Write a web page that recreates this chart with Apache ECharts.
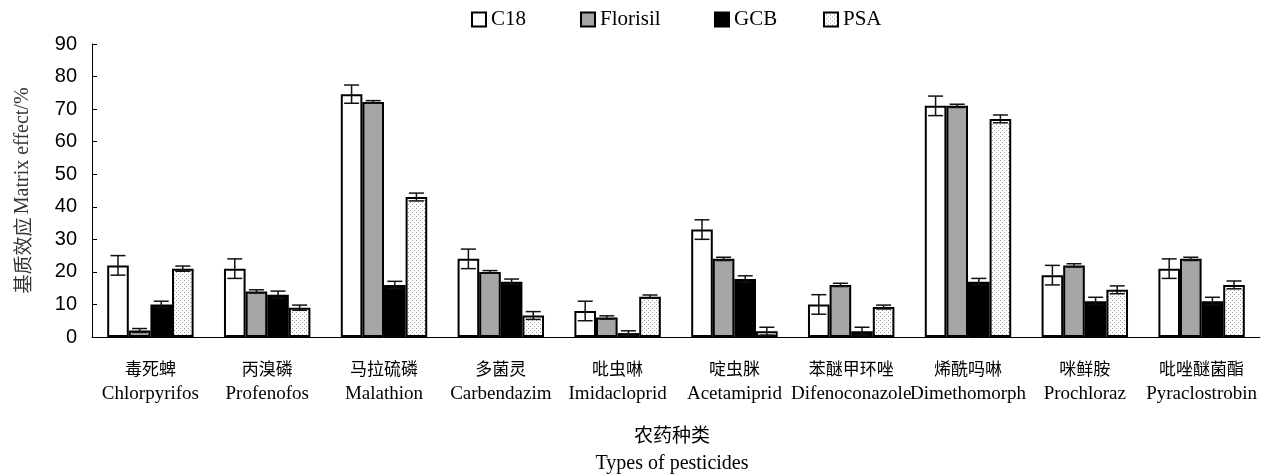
<!DOCTYPE html>
<html>
<head>
<meta charset="utf-8">
<script src="https://cdn.jsdelivr.net/npm/echarts@6/dist/echarts.min.js"></script>
<style>
  html, body { margin: 0; padding: 0; background: #fff; }
  #chart { width: 1267px; height: 476px; }
</style>
</head>
<body>
<div id="chart"></div>
<script>
// Pesticide names (Chinese / English)
const namesCn = ['毒死蜱', '丙溴磷', '马拉硫磷', '多菌灵', '吡虫啉', '啶虫脒', '苯醚甲环唑', '烯酰吗啉', '咪鲜胺', '吡唑醚菌酯'];
const namesEn = ['Chlorpyrifos', 'Profenofos', 'Malathion', 'Carbendazim', 'Imidacloprid', 'Acetamiprid', 'Difenoconazole', 'Dimethomorph', 'Prochloraz', 'Pyraclostrobin'];

// Sorbent names
const sorbents = ['C18', 'Florisil', 'GCB', 'PSA'];

// Matrix effect (%) per sorbent
const c18 = [22, 21, 74.6, 24, 8, 33, 10, 71, 19, 21];
const florisil = [2, 14, 72.2, 20, 6, 24, 16, 71, 22, 24];
const gcb = [10, 13, 16, 17, 1.2, 17.8, 1.8, 17, 11, 11];
const psa = [21, 9, 43, 6.6, 12.4, 1.8, 9.2, 67, 14.5, 16];

// Standard deviations
const c18Err = [3, 3, 2.8, 3, 3, 3, 3, 3, 3, 3];
const florisilErr = [0.6, 0.5, 0.4, 0.4, 0.5, 0.5, 0.5, 0.5, 0.5, 0.5];
const gcbErr = [1, 1.1, 1.1, 0.8, 0.7, 1, 1.2, 1, 1.2, 1.2];
const psaErr = [0.8, 0.8, 1.2, 1.2, 0.5, 1.2, 0.6, 1.2, 1.2, 1.2];

// Y axis ticks
const yMin = 0, yMax = 90, yStep = 10;

const values = [c18, florisil, gcb, psa];
const errors = [c18Err, florisilErr, gcbErr, psaErr];

// Dotted fill for PSA
function dotPattern() {
  const c = document.createElement('canvas');
  c.width = 4; c.height = 4;
  const g = c.getContext('2d');
  g.fillStyle = '#ffffff';
  g.fillRect(0, 0, 4, 4);
  g.fillStyle = '#9a9a9a';
  g.fillRect(0, 0, 1, 1);
  g.fillRect(2, 2, 1, 1);
  return { image: c, repeat: 'repeat' };
}

const fills = ['#ffffff', '#a6a6a6', '#000000', dotPattern()];
const BAR_FRAC = 0.185;

const serif = "'Liberation Serif', 'Times New Roman', 'Noto Sans CJK SC', serif";
const cjk = "'Noto Sans CJK SC', 'Liberation Serif', serif";

const barSeries = sorbents.map((name, k) => ({
  name: name,
  type: 'bar',
  data: values[k],
  barWidth: (BAR_FRAC * 100) + '%',
  barGap: '0%',
  itemStyle: { color: fills[k], borderColor: '#000', borderWidth: 2 },
  emphasis: { disabled: true },
  z: 2
}));

const errSeries = sorbents.map((name, k) => ({
  name: name + '-sd',
  type: 'custom',
  z: 3,
  silent: true,
  data: values[k].map((v, i) => [i, v, errors[k][i]]),
  encode: { x: 0, y: 1 },
  renderItem: function (params, api) {
    const i = api.value(0), v = api.value(1), e = api.value(2);
    const band = api.size([1, 0])[0];
    const cx = api.coord([i, v])[0] + (k - 1.5) * band * BAR_FRAC;
    const yHi = api.coord([i, v + e])[1];
    const yLo = api.coord([i, Math.max(v - e, 0)])[1];
    const cap = 7.5;
    const st = { stroke: '#111', lineWidth: 1.5 };
    return {
      type: 'group',
      children: [
        { type: 'line', shape: { x1: cx, y1: yHi, x2: cx, y2: yLo }, style: st },
        { type: 'line', shape: { x1: cx - cap, y1: yHi, x2: cx + cap, y2: yHi }, style: st },
        { type: 'line', shape: { x1: cx - cap, y1: yLo, x2: cx + cap, y2: yLo }, style: st }
      ]
    };
  }
}));

// One legend block per sorbent so each entry sits at its own place
const legendLeft = [471, 580, 714, 823];
const legends = sorbents.map((name, k) => ({
  data: [name],
  top: 9,
  left: legendLeft[k],
  padding: 0,
  icon: 'rect',
  itemWidth: 14,
  itemHeight: 14,
  textStyle: { fontFamily: serif, fontSize: 21, color: '#000', padding: [2, 0, 0, 0] },
  itemStyle: { borderColor: '#000', borderWidth: 2 }
}));

const chart = echarts.init(document.getElementById('chart'), null, { renderer: 'canvas' });

chart.setOption({
  animation: false,
  backgroundColor: '#fff',
  legend: legends,
  grid: { left: 92, right: 7, top: 44, bottom: 139, containLabel: false, outerBoundsMode: 'none' },
  xAxis: {
    type: 'category',
    data: namesCn.map((c, i) => '{cn|' + c + '}\n{en|' + namesEn[i] + '}'),
    axisLine: { lineStyle: { color: '#000', width: 1 } },
    axisTick: { inside: true, length: 5, lineStyle: { color: '#000' } },
    axisLabel: {
      interval: 0,
      margin: 19,
      color: '#000',
      formatter: function (v) { return v; },
      rich: {
        cn: { fontFamily: cjk, fontSize: 17, lineHeight: 25, color: '#000' },
        en: { fontFamily: serif, fontSize: 19, lineHeight: 26, color: '#000' }
      }
    },
    name: '{cn|农药种类}\n{en|Types of pesticides}',
    nameLocation: 'middle',
    nameGap: 83,
    nameTextStyle: {
      color: '#000',
      padding: [0, 8, 0, 0],
      rich: {
        cn: { fontFamily: cjk, fontSize: 19, lineHeight: 29, color: '#000' },
        en: { fontFamily: serif, fontSize: 20, lineHeight: 30, color: '#000' }
      }
    }
  },
  yAxis: {
    type: 'value',
    min: yMin,
    max: yMax,
    interval: yStep,
    splitLine: { show: false },
    axisLine: { show: true, lineStyle: { color: '#000', width: 1 } },
    axisTick: { show: true, inside: true, length: 5, lineStyle: { color: '#000' } },
    axisLabel: { fontFamily: "'Liberation Sans', Arial, sans-serif", fontSize: 20, color: '#000', margin: 15 },
    name: '{cn|基质效应} {en|Matrix effect/%}',
    nameLocation: 'middle',
    nameRotate: 90,
    nameGap: 59,
    nameTextStyle: {
      color: '#333',
      rich: {
        cn: { fontFamily: cjk, fontSize: 19, color: '#333' },
        en: { fontFamily: serif, fontSize: 20, color: '#333' }
      }
    }
  },
  series: barSeries.concat(errSeries)
});
</script>
</body>
</html>
